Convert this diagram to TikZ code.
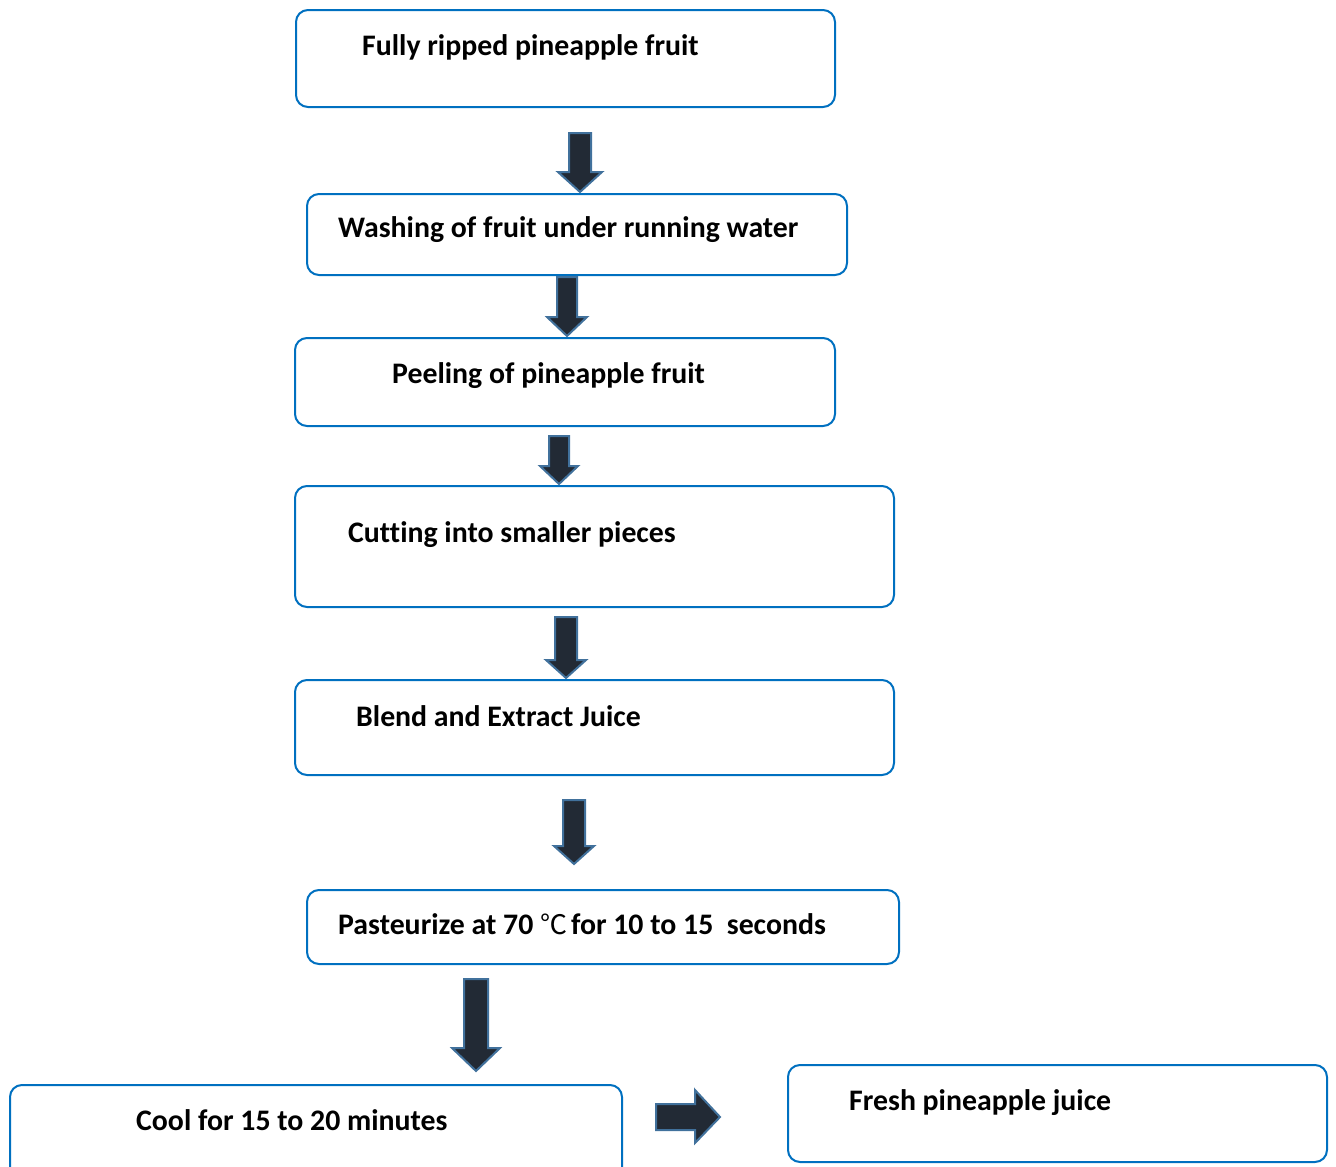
\documentclass[tikz,border=0pt]{standalone}
\usepackage{fontspec}
\setmainfont{Carlito}[Ligatures=NoCommon]
\newfontfamily\cjk{Noto Sans CJK SC}
\definecolor{boxblue}{HTML}{0070C0}
\definecolor{arrfill}{HTML}{222A35}
\definecolor{arredge}{HTML}{41719C}
\tikzset{
  box/.style={draw=boxblue, line width=2pt, rounded corners=12pt, fill=white},
  txt/.style={font=\fontsize{29.8}{34}\selectfont\bfseries, text=black, inner sep=0pt, anchor=base west},
  blockarrow/.style={fill=arrfill, draw=arredge, line width=2pt, line join=miter}
}
% down arrow: cx, top, headstart, tip, shaft half width, head half width
\newcommand{\dnarrow}[6]{%
  \draw[blockarrow] (#1-#5,#2) -- (#1+#5,#2) -- (#1+#5,#3) -- (#1+#6,#3) -- (#1,#4)
    -- (#1-#6,#3) -- (#1-#5,#3) -- cycle;}
\begin{document}
\begin{tikzpicture}[x=1pt,y=-1pt]
\useasboundingbox (0,0) rectangle (1336,1167);
% boxes
\path[box] (296,10) rectangle (835,107) node[pos=0.5,inner sep=0] (b1) {};
\path[box] (307,194) rectangle (847,275) node[pos=0.5,inner sep=0] (b2) {};
\path[box] (295,338) rectangle (835,426) node[pos=0.5,inner sep=0] (b3) {};
\path[box] (295,486) rectangle (894,607) node[pos=0.5,inner sep=0] (b4) {};
\path[box] (295,680) rectangle (894,775) node[pos=0.5,inner sep=0] (b5) {};
\path[box] (307,890) rectangle (899,964) node[pos=0.5,inner sep=0] (b6) {};
\path[box] (10,1085) rectangle (622,1190) node[pos=0.5,inner sep=0] (b7) {};
\path[box] (788,1065) rectangle (1327,1162) node[pos=0.5,inner sep=0] (b8) {};
% texts
\node[txt] (t1) at (362,55) {Fully ripped pineapple fruit};
\node[txt] (t2) at (338,237) {Washing of fruit under running water};
\node[txt] (t3) at (392,383) {Peeling of pineapple fruit};
\node[txt] (t4) at (348,542) {Cutting into smaller pieces};
\node[txt] (t5) at (356,726) {Blend and Extract Juice};
\node[txt] (t6) at (338,934) {Pasteurize at 70 {\fontseries{m}\fontsize{27}{30}\cjk ℃}\kern4pt for 10 to 15\ \ seconds};
\node[txt] (t7) at (136,1130) {Cool for 15 to 20 minutes};
\node[txt] (t8) at (849,1110) {Fresh pineapple juice};
% arrows
\dnarrow{580}{133}{172}{192}{11}{22}
\dnarrow{567}{277}{317}{336}{10}{20}
\dnarrow{559}{436}{466}{484}{10}{19}
\dnarrow{566}{617}{660}{678}{11}{20}
\dnarrow{574}{800}{846}{864}{11}{20}
\dnarrow{476}{979}{1048}{1071}{12}{24}
\draw[blockarrow] (656,1104) -- (695,1104) -- (695,1090) -- (720,1117) -- (695,1143)
  -- (695,1130) -- (656,1130) -- cycle;
\end{tikzpicture}
\end{document}
